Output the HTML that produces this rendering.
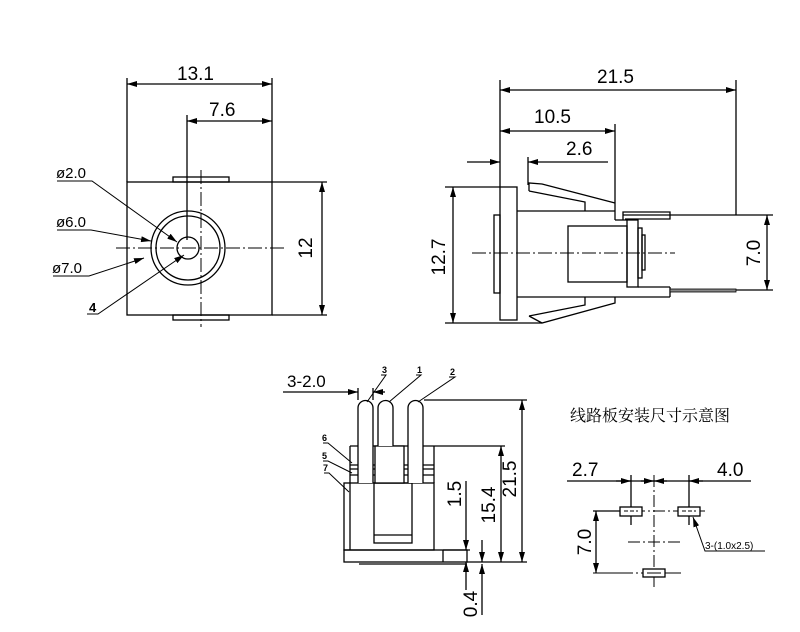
<!DOCTYPE html>
<html><head><meta charset="utf-8"><style>
html,body{margin:0;padding:0;background:#fff;}
svg{display:block;}
text{font-family:"Liberation Sans",sans-serif;fill:#000;}
</style></head><body>
<svg width="800" height="632" viewBox="0 0 800 632" xmlns="http://www.w3.org/2000/svg">
<defs>
<marker id="a" viewBox="0 0 10 6" refX="10" refY="3" markerWidth="10" markerHeight="6" orient="auto-start-reverse" markerUnits="userSpaceOnUse"><path d="M0,0 L10,3 L0,6 Z" fill="#000"/></marker>
</defs>
<g stroke="#000" stroke-width="1.3" fill="none">
<!-- FRONT VIEW -->
<rect x="127" y="182" width="145" height="133"/>
<rect x="173" y="177" width="56" height="5"/>
<rect x="173" y="315" width="56" height="5"/>
<line x1="127" y1="78" x2="127" y2="182"/>
<line x1="272" y1="78" x2="272" y2="182"/>
<line x1="127" y1="84" x2="272" y2="84" marker-start="url(#a)" marker-end="url(#a)"/>
<line x1="187" y1="115" x2="187" y2="240"/>
<line x1="187" y1="121" x2="272" y2="121" marker-start="url(#a)" marker-end="url(#a)"/>
<line x1="272" y1="182" x2="327" y2="182"/>
<line x1="272" y1="315" x2="327" y2="315"/>
<line x1="322" y1="182" x2="322" y2="315" marker-start="url(#a)" marker-end="url(#a)"/>
<circle cx="188" cy="248" r="37"/>
<circle cx="188" cy="248" r="32"/>
<circle cx="188" cy="248" r="11"/>
<line x1="116" y1="248" x2="287" y2="248" stroke-dasharray="14,3,2,3" stroke-width="1"/>
<line x1="201" y1="170" x2="201" y2="327" stroke-dasharray="14,3,2,3" stroke-width="1"/>
<polyline points="57,181 92,181 177,242" marker-end="url(#a)" stroke-width="1"/>
<polyline points="57,230 91,230 151,241" marker-end="url(#a)" stroke-width="1"/>
<polyline points="53,276 89,276 144,258" marker-end="url(#a)" stroke-width="1"/>
<polyline points="87,314 98,314 184,255" marker-end="url(#a)" stroke-width="1"/>
<!-- SIDE VIEW -->
<rect x="500" y="187" width="17" height="133"/>
<rect x="494" y="215" width="6" height="78"/>
<line x1="517" y1="211" x2="615" y2="211"/>
<line x1="517" y1="297" x2="670" y2="297"/>
<line x1="638" y1="287" x2="670" y2="287"/>
<line x1="670" y1="287" x2="670" y2="297"/>
<rect x="568" y="226" width="59" height="56"/>
<rect x="627" y="220" width="11" height="67"/>
<rect x="638" y="228" width="4" height="50"/>
<rect x="642" y="235" width="3" height="35"/>
<line x1="615" y1="124" x2="615" y2="220"/>
<line x1="615" y1="220" x2="627" y2="220"/>
<polyline points="623,220 623,212 670,212 670,219 625,219"/>
<line x1="623" y1="215" x2="773" y2="215"/>
<line x1="670" y1="290" x2="773" y2="290"/>
<rect x="670" y="289" width="66" height="3" fill="#888" stroke-width="0.8"/>
<polyline points="529,191 529,183 542,184 615,203"/>
<polyline points="529,191 585,202 585,211"/>
<polyline points="529,316 542,323 615,303 615,297"/>
<polyline points="529,316 585,305 585,297"/>
<line x1="500" y1="80" x2="500" y2="187"/>
<line x1="736" y1="80" x2="736" y2="215"/>
<line x1="500" y1="90" x2="736" y2="90" marker-start="url(#a)" marker-end="url(#a)"/>
<line x1="500" y1="131" x2="615" y2="131" marker-start="url(#a)" marker-end="url(#a)"/>
<line x1="528" y1="157" x2="528" y2="185"/>
<line x1="467" y1="162" x2="500" y2="162" marker-end="url(#a)"/>
<line x1="608" y1="162" x2="528" y2="162" marker-end="url(#a)"/>
<line x1="445" y1="187" x2="500" y2="187"/>
<line x1="445" y1="323" x2="542" y2="323"/>
<line x1="453" y1="187" x2="453" y2="323" marker-start="url(#a)" marker-end="url(#a)"/>
<line x1="767" y1="215" x2="767" y2="290" marker-start="url(#a)" marker-end="url(#a)"/>
<line x1="472" y1="253" x2="675" y2="253" stroke-dasharray="14,3,2,3" stroke-width="1"/>
<!-- BOTTOM VIEW -->
<rect x="344" y="483" width="90" height="67"/>
<line x1="350" y1="446" x2="350" y2="550"/>
<line x1="434" y1="446" x2="434" y2="483"/>
<line x1="350" y1="446" x2="505" y2="446"/>
<line x1="350" y1="465" x2="434" y2="465"/>
<line x1="350" y1="469" x2="434" y2="469"/>
<line x1="350" y1="475" x2="434" y2="475"/>
<rect x="344" y="550" width="123" height="12"/>
<line x1="443" y1="550" x2="443" y2="562"/>
<line x1="359" y1="564" x2="467" y2="564"/>
<rect x="374" y="483" width="38" height="60"/>
<line x1="374" y1="535" x2="412" y2="535"/>
<rect x="375" y="446" width="29" height="37" fill="#fff"/>
<path d="M358,483 V408 A7.5,7.5 0 0 1 373,408 V483" fill="#fff"/>
<path d="M378,446 V408 A7.5,7.5 0 0 1 393,408 V446" fill="#fff"/>
<path d="M408,483 V408 A7.5,7.5 0 0 1 423,408 V483" fill="#fff"/>
<line x1="424" y1="400" x2="527" y2="400"/>
<line x1="467" y1="562" x2="527" y2="562"/>
<line x1="522" y1="400" x2="522" y2="562" marker-start="url(#a)" marker-end="url(#a)"/>
<line x1="501" y1="446" x2="501" y2="562" marker-start="url(#a)" marker-end="url(#a)"/>
<line x1="466" y1="481" x2="466" y2="550" marker-end="url(#a)"/>
<line x1="466" y1="590" x2="466" y2="562" marker-end="url(#a)"/>
<line x1="482" y1="540" x2="482" y2="562" marker-end="url(#a)"/>
<line x1="482" y1="615" x2="482" y2="564" marker-end="url(#a)"/>
<line x1="443" y1="550" x2="470" y2="550"/>
<line x1="283" y1="392" x2="358" y2="392" marker-end="url(#a)"/>
<line x1="385" y1="392" x2="373" y2="392" marker-end="url(#a)"/>
<line x1="358" y1="388" x2="358" y2="400"/>
<line x1="373" y1="388" x2="373" y2="400"/>
<g stroke-width="1">
<polyline points="381,375 386,375 367,402"/>
<polyline points="416,375 421,375 389,402"/>
<polyline points="449,377 455,377 418,402"/>
<polyline points="323,443 328,443 352,463"/>
<polyline points="323,461 328,461 352,473"/>
<polyline points="324,473 329,473 349,492"/>
</g>
<!-- PCB -->
<line x1="567" y1="481" x2="751" y2="481"/>
<line x1="631" y1="475" x2="631" y2="525"/>
<line x1="689" y1="475" x2="689" y2="525"/>
<line x1="654" y1="475" x2="654" y2="590" stroke-dasharray="12,3,2,3" stroke-width="1"/>
<line x1="616" y1="481" x2="631" y2="481" marker-end="url(#a)"/>
<line x1="641" y1="481" x2="654" y2="481" marker-end="url(#a)"/>
<line x1="667" y1="481" x2="654" y2="481" marker-end="url(#a)"/>
<line x1="703" y1="481" x2="689" y2="481" marker-end="url(#a)"/>
<line x1="593" y1="511" x2="707" y2="511" stroke-dasharray="12,3,2,3" stroke-width="1"/>
<line x1="628" y1="542" x2="680" y2="542" stroke-dasharray="12,3,2,3" stroke-width="1"/>
<line x1="593" y1="511" x2="620" y2="511"/>
<line x1="593" y1="573" x2="683" y2="573" stroke-dasharray="40,3,2,3" stroke-width="1"/>
<rect x="620" y="507" width="22" height="9" fill="#fff"/>
<rect x="678" y="507" width="22" height="9" fill="#fff"/>
<rect x="643" y="569" width="22" height="8" fill="#fff"/>
<line x1="624" y1="511" x2="638" y2="511" stroke-dasharray="4,2" stroke-width="1"/>
<line x1="682" y1="511" x2="696" y2="511" stroke-dasharray="4,2" stroke-width="1"/>
<line x1="647" y1="573" x2="661" y2="573" stroke-width="1"/>
<line x1="596" y1="511" x2="596" y2="573" marker-start="url(#a)" marker-end="url(#a)"/>
<polyline points="765,551 705,551 693,517" marker-end="url(#a)" stroke-width="1"/>
</g>
<!-- TEXT -->
<g font-size="19">
<text x="177" y="80">13.1</text>
<text x="209" y="116">7.6</text>
<text x="597" y="83">21.5</text>
<text x="534" y="123">10.5</text>
<text x="566" y="155">2.6</text>
<text x="572" y="476">2.7</text>
<text x="717" y="476">4.0</text>
<text x="287" y="387" font-size="17">3-2.0</text>
<text transform="translate(312,248) rotate(-90)" text-anchor="middle">12</text>
<text transform="translate(445,257) rotate(-90)" text-anchor="middle">12.7</text>
<text transform="translate(760,253) rotate(-90)" text-anchor="middle">7.0</text>
<text transform="translate(516,479) rotate(-90)" text-anchor="middle">21.5</text>
<text transform="translate(495,505) rotate(-90)" text-anchor="middle">15.4</text>
<text transform="translate(461,494) rotate(-90)" text-anchor="middle">1.5</text>
<text transform="translate(477,604) rotate(-90)" text-anchor="middle">0.4</text>
<text transform="translate(591,542) rotate(-90)" text-anchor="middle">7.0</text>
</g>
<g font-size="15">
<text x="56" y="178">ø2.0</text>
<text x="56" y="227">ø6.0</text>
<text x="52" y="273">ø7.0</text>
<text x="89" y="312" font-weight="bold" font-size="13">4</text>
</g>
<g font-size="9" font-weight="bold">
<text x="382" y="373">3</text>
<text x="417" y="373">1</text>
<text x="450" y="375">2</text>
<text x="322" y="441">6</text>
<text x="322" y="459">5</text>
<text x="323" y="471">7</text>
</g>
<text x="705" y="549" font-size="10">3-(1.0x2.5)</text>
<text x="570" y="421" font-size="16" style="font-family:'Noto Serif CJK SC','Noto Sans CJK SC',serif">线路板安装尺寸示意图</text>
</svg>
</body></html>
